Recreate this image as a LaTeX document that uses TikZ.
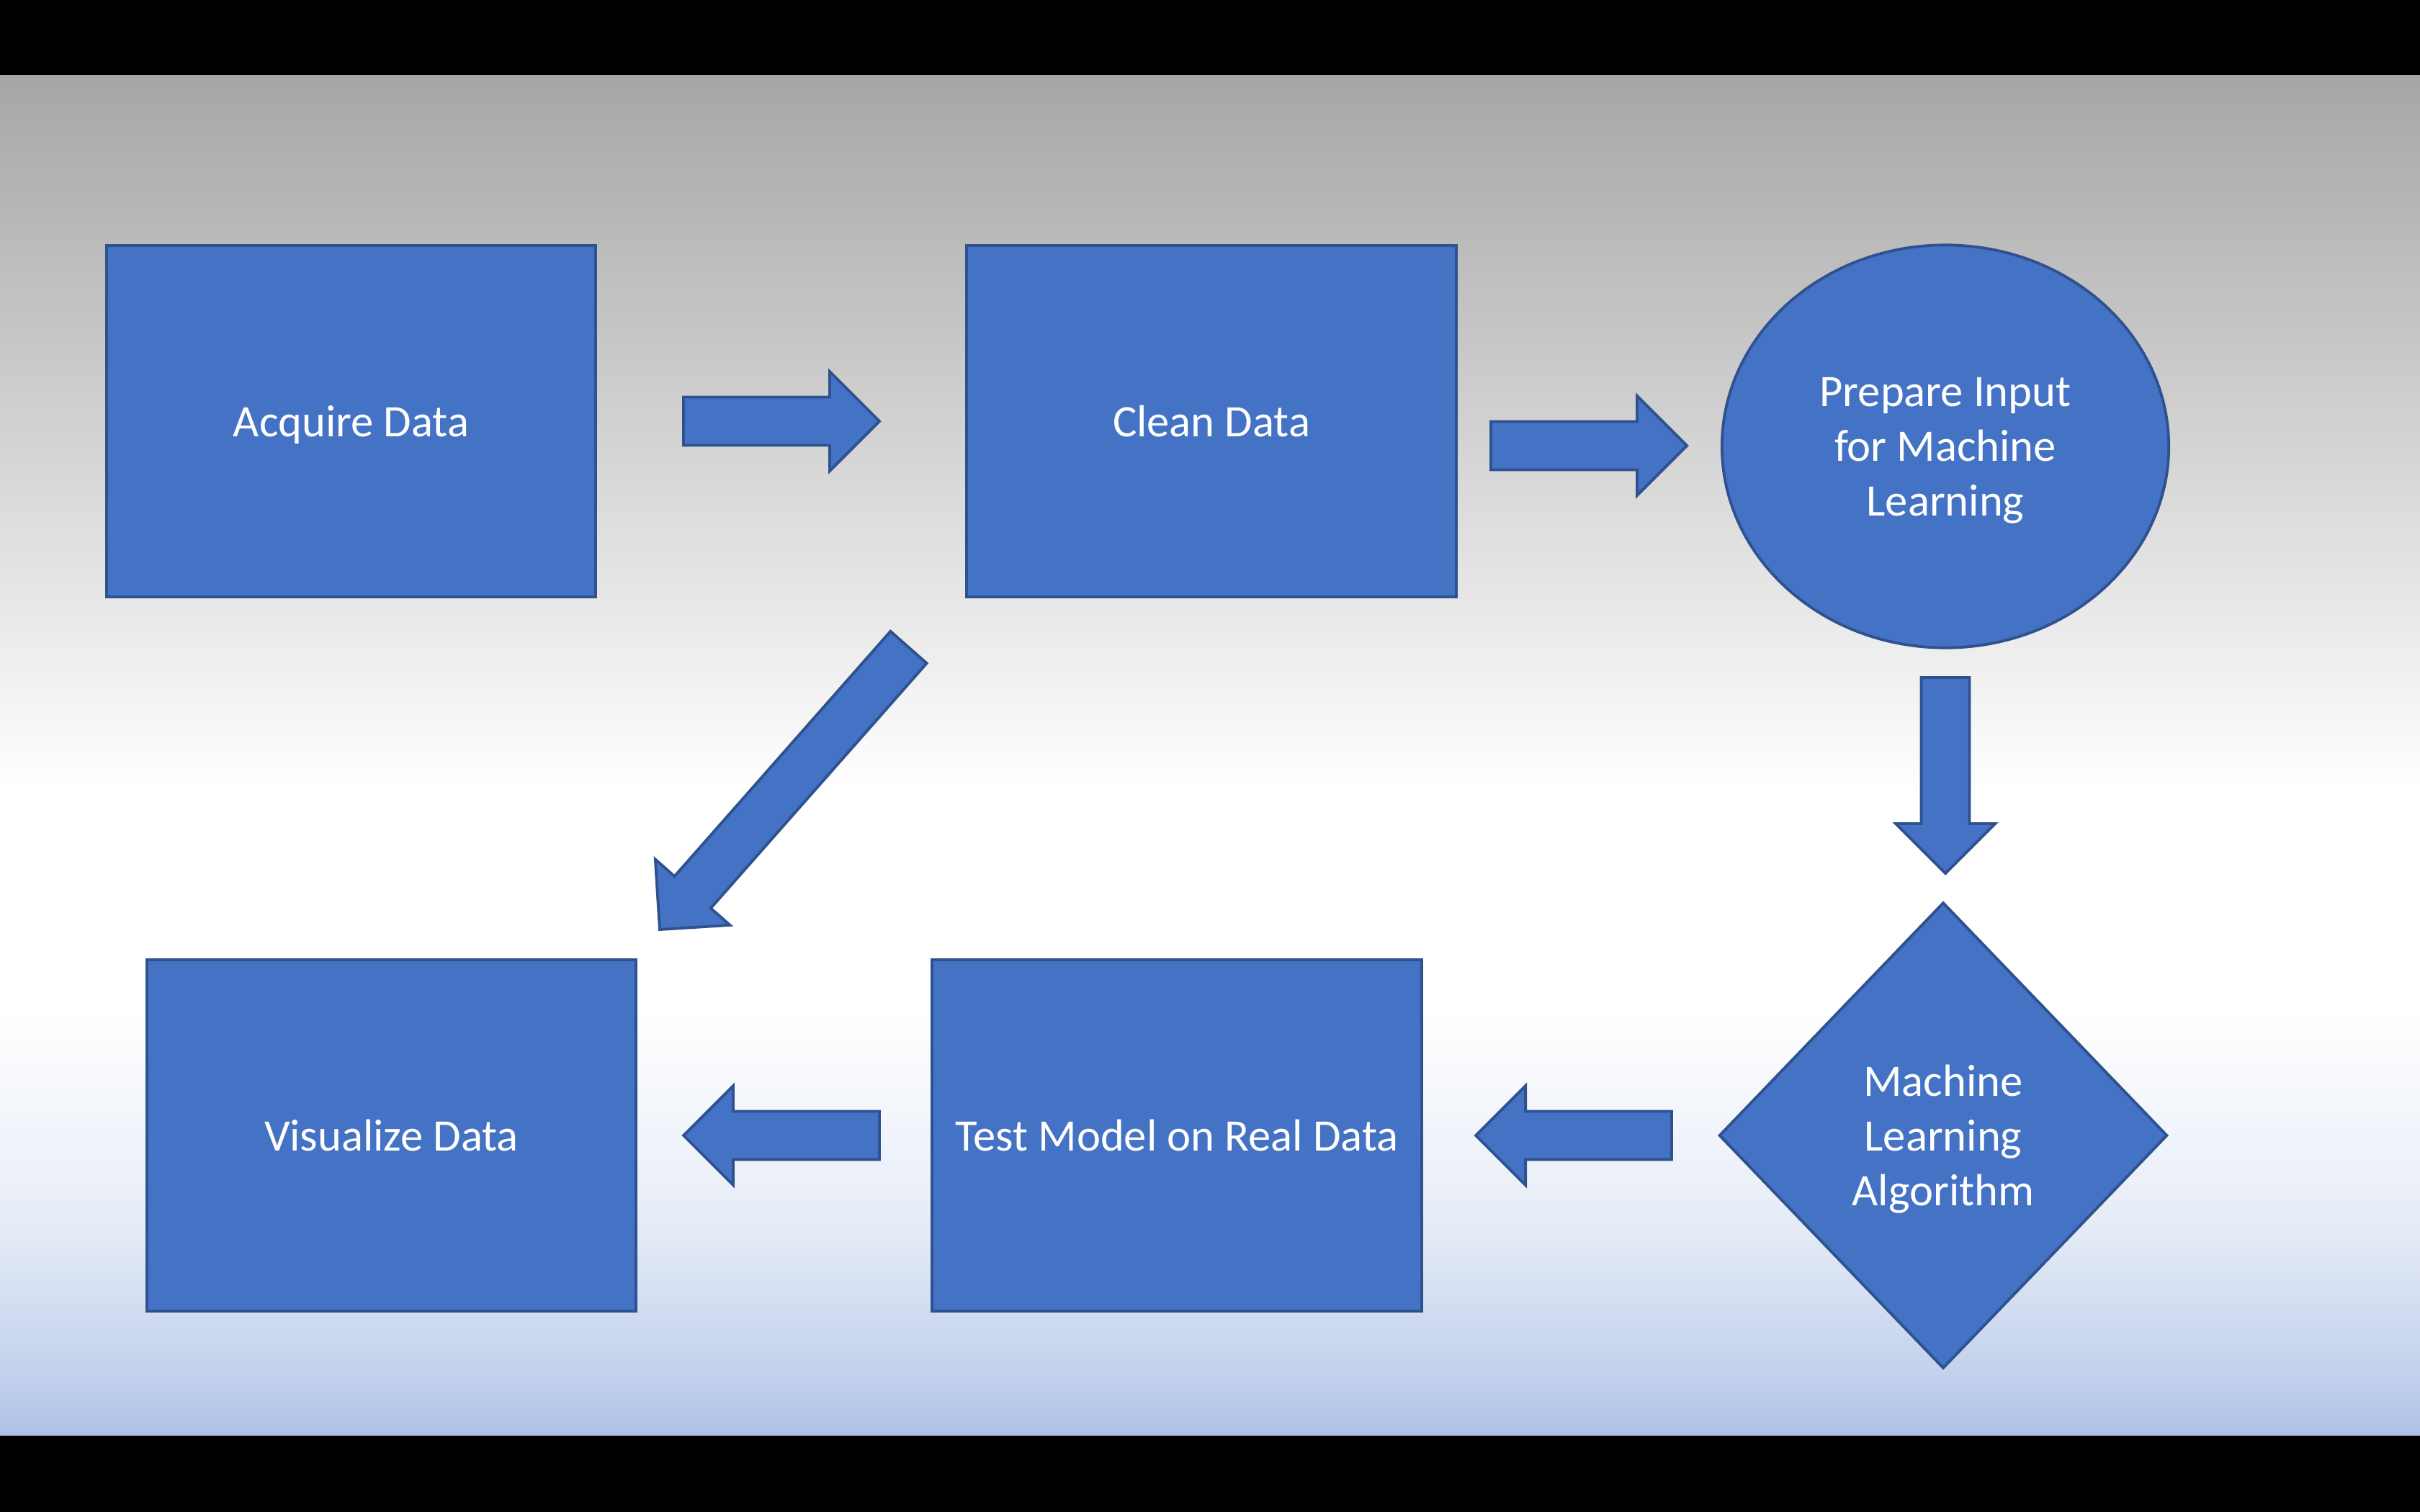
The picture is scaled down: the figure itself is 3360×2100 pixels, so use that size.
\documentclass[tikz,border=0pt]{standalone}
\usepackage{fontspec}
\setmainfont{Carlito}
\usetikzlibrary{shapes.geometric,calc}
\definecolor{boxfill}{HTML}{4472C4}
\definecolor{boxline}{HTML}{2F528F}
\definecolor{bgtop}{HTML}{A6A6A6}
\definecolor{bgblueA}{HTML}{E6ECF7}
\definecolor{bgblueB}{HTML}{C4D2EC}
\definecolor{bgblueC}{HTML}{ADC1E6}
\tikzset{
  shapebase/.style={fill=boxfill, draw=boxline, line width=1.1pt, text=white,
    align=center, inner sep=0pt, text depth=0pt,
    font=\fontsize{17.8pt}{21.6pt}\selectfont},
  stepbox/.style={shapebase, rectangle, minimum width=6.79cm, minimum height=4.88cm},
  ovalbox/.style={shapebase, ellipse, minimum width=6.2cm, minimum height=5.59cm},
  decisionbox/.style={shapebase, diamond, minimum width=6.22cm, minimum height=6.47cm},
  blockarrowstyle/.style={fill=boxfill, draw=boxline, line width=1.1pt, line join=miter}
}
\newcommand{\blockarrow}[2]{%
  \path ($(#2)!0.69cm!(#1)$) coordinate (tmpH);
  \draw[blockarrowstyle]
    ($(#1)!0.335cm!90:(#2)$) -- ($(tmpH)!0.335cm!90:(#2)$) --
    ($(tmpH)!0.69cm!90:(#2)$) -- (#2) --
    ($(tmpH)!0.69cm!-90:(#2)$) -- ($(tmpH)!0.335cm!-90:(#2)$) --
    ($(#1)!0.335cm!-90:(#2)$) -- cycle;
}
\begin{document}
\begin{tikzpicture}[x=0.01cm, y=-0.01cm]
\useasboundingbox (0,0) rectangle (3360,2100);
% background
\shade[top color=bgtop, bottom color=white] (0,104) rectangle (3360,1100.5);
\fill[white] (0,1100) rectangle (3360,1400.5);
\shade[top color=white, bottom color=bgblueA] (0,1400) rectangle (3360,1700.5);
\shade[top color=bgblueA, bottom color=bgblueB] (0,1700) rectangle (3360,1900.5);
\shade[top color=bgblueB, bottom color=bgblueC] (0,1900) rectangle (3360,1994);
\fill[black] (0,0) rectangle (3360,104);
\fill[black] (0,1994) rectangle (3360,2100);

% nodes
\node[stepbox] (acq) at (487.5,585) {Acquire Data};
\node[stepbox] (clean) at (1682,585) {Clean Data};
\node[ovalbox] (prep) at (2701,620) {Prepare Input\\for Machine\\Learning};
\node[decisionbox] (mla) at (2698,1577) {Machine\\Learning\\Algorithm};
\node[stepbox] (test) at (1634,1577) {Test Model on Real Data};
\node[stepbox] (vis) at (543.5,1577) {Visualize Data};

% arrow end points
\coordinate (a1s) at (949,585);    \coordinate (a1e) at (1221,585);
\coordinate (a2s) at (2070,619);   \coordinate (a2e) at (2342,619);
\coordinate (a3s) at (2701,941);   \coordinate (a3e) at (2701,1213);
\coordinate (a4s) at (2321,1577);  \coordinate (a4e) at (2049,1577);
\coordinate (a5s) at (1221,1577);  \coordinate (a5e) at (949,1577);
\coordinate (a6s) at (1261.5,899); \coordinate (a6e) at (916,1291);

\blockarrow{a1s}{a1e}
\blockarrow{a2s}{a2e}
\blockarrow{a3s}{a3e}
\blockarrow{a4s}{a4e}
\blockarrow{a5s}{a5e}
\blockarrow{a6s}{a6e}
\end{tikzpicture}
\end{document}
